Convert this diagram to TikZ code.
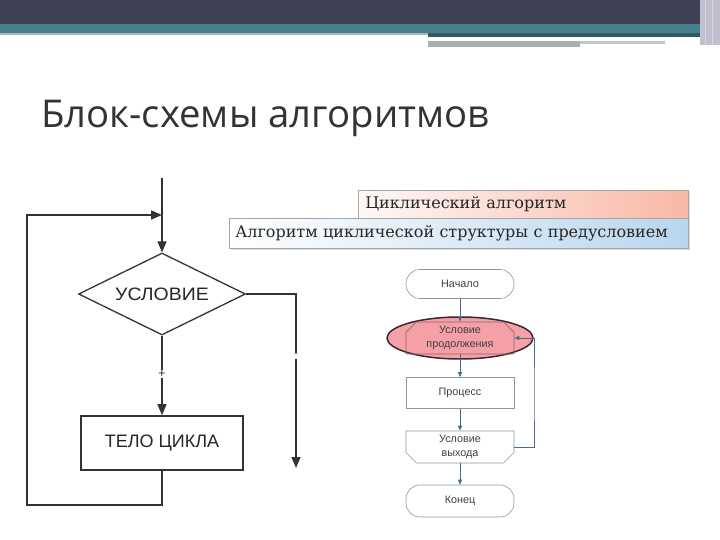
\documentclass[tikz,border=0pt]{standalone}
\usepackage{fontspec}
\setmainfont{DejaVu Serif}
\newfontfamily\titlefont{Open Sans}
\newfontfamily\armfont{Liberation Sans}
\usetikzlibrary{shapes.geometric,shapes.misc,arrows.meta}
\definecolor{topdark}{HTML}{3F4256}
\definecolor{topteal}{HTML}{46808A}
\definecolor{lineg}{HTML}{333333}
\definecolor{boxb}{HTML}{8A96A8}
\definecolor{arrb}{HTML}{4A6A8A}
\definecolor{salmon}{HTML}{F8B8A6}
\definecolor{lblue}{HTML}{B9D6EE}
\definecolor{grayline}{HTML}{A9B8BB}
\definecolor{graybar}{HTML}{A7B1B1}
\definecolor{graybar2}{HTML}{BEC8C8}
\definecolor{lav}{HTML}{C0C0D0}
\definecolor{ellfill}{HTML}{F4A0A6}
\definecolor{elldraw}{HTML}{3C2830}
\definecolor{loopdraw}{HTML}{96646E}
\tikzset{
  lline/.style={draw=lineg, line width=1.6pt},
  larr/.style={lline, -{Triangle[length=11pt,width=9pt]}},
  rbox/.style={draw=boxb, line width=0.6pt, minimum width=108pt, minimum height=31pt, inner sep=1pt,
     font=\armfont\fontsize{10.8}{13.5}\selectfont, text=black!75, align=center},
  rarr/.style={draw=arrb, line width=0.7pt, -{Triangle[length=5pt,width=4pt]}},
  pm/.style={fill=white, inner sep=1pt, font=\armfont\fontsize{12}{12}\selectfont},
  hdr/.style={draw=black!35, line width=0.5pt, anchor=north west, inner sep=0pt,
     font=\fontsize{16}{18}\selectfont, text=black!85},
  lbl/.style={font=\armfont\fontsize{18}{18}\selectfont, text=black!85},
}
\begin{document}
\begin{tikzpicture}[x=1pt,y=-1pt]
\useasboundingbox (0,0) rectangle (720,540);
\fill[white] (0,0) rectangle (720,540);
% top band
\fill[topdark] (0,0) rectangle (720,24);
\fill[topteal] (0,24) rectangle (700,33);
\fill[black!30!topteal] (428,33) rectangle (700,37);
\fill[grayline] (0,33) rectangle (428,35.5);
\fill[white] (428,37) rectangle (665,40);
\fill[graybar] (428,41) rectangle (580,47);
\fill[graybar2] (580,41) rectangle (665,44);
\fill[lav] (700,0) rectangle (720,45);
\draw[white!70!gray, line width=1pt] (705,0) -- (705,45) (712,0) -- (712,45);
% title
\node[anchor=base west, inner sep=0pt, font=\titlefont\fontsize{38.3}{42}\selectfont, text=black!80] (title) at (41,128) {Блок-схемы алгоритмов};
% header boxes
\fill[black!12] (360,192) rectangle (690,220);
\node[hdr, minimum width=330pt, minimum height=28pt, left color=white!90!salmon, right color=salmon, text width=322pt, align=left] (h1) at (358,190) {\hspace*{3pt}Циклический алгоритм};
\fill[black!15] (231,220) rectangle (690,250);
\node[hdr, minimum width=459pt, minimum height=30pt, left color=white, right color=lblue, text width=451pt, align=left] (h2) at (229,218) {\hspace*{2pt}Алгоритм циклической структуры с предусловием};
% left flowchart
\node[diamond, draw=lineg, line width=1.3pt, minimum width=167pt, minimum height=82pt, inner sep=0pt, aspect=2, lbl] (cond) at (162,294) {\scalebox{1.08}[1]{УСЛОВИЕ}};
\node[draw=lineg, line width=1.6pt, minimum width=162pt, minimum height=54pt, inner sep=0pt, lbl] (body) at (162,443) {ТЕЛО ЦИКЛА};
\coordinate (top) at (162,178);
\coordinate (join) at (162,215);
\coordinate (lb) at (27,505);
\coordinate (lt) at (27,215);
\coordinate (rend) at (296,468);
\draw[larr] (top) -- (cond.north);
\draw[larr] (body.south) |- (lb) -- (lt) -- (join);
\draw[larr] (cond.east) -| (rend);
\draw[larr] (cond.south) -- (body.north);
\node[pm, text=black!45] (minus) at (296,356) {-};
\node[pm, text=black!85] (plus) at (162,374) {+};
% right flowchart
\node[ellipse, fill=ellfill, draw=elldraw, line width=1.5pt,
      minimum width=146pt, minimum height=42pt] (ell) at (460,338) {};
\node[rbox, rounded corners=14pt, minimum height=29pt] (start) at (460,284) {Начало};
\node[rbox, chamfered rectangle, chamfered rectangle corners={north west,north east}, chamfered rectangle xsep=7pt,
      draw=loopdraw, minimum height=31pt] (loopc) at (460,338) {Условие\\продолжения};
\node[rbox] (proc) at (460,393) {Процесс};
\node[rbox, chamfered rectangle, chamfered rectangle corners={south west,south east}, chamfered rectangle xsep=7pt] (exitc) at (460,447) {Условие\\выхода};
\node[rbox, rounded corners=14pt, minimum height=32pt] (stop) at (460,501) {Конец};
\coordinate (rr) at (534,395);
\draw[rarr] (start.south) -- (loopc.north);
\draw[rarr] (loopc.south) -- (proc.north);
\draw[rarr] (proc.south) -- (exitc.north);
\draw[rarr] (exitc.south) -- (stop.north);
\draw[rarr] (exitc.east) -| (rr) |- (loopc.east);
\end{tikzpicture}
\end{document}
